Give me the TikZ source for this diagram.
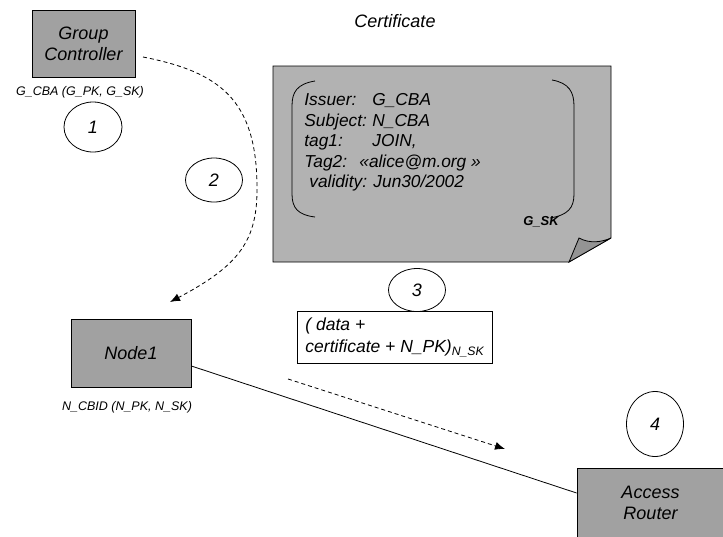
\documentclass[tikz,border=0pt]{standalone}
\usepackage{fontspec}
\setmainfont{Liberation Sans}
\usepackage{tikz}
\usetikzlibrary{arrows.meta}
\usetikzlibrary{shapes.geometric}
\definecolor{boxgray}{gray}{0.63}
\definecolor{certgray}{gray}{0.70}
\definecolor{foldgray}{gray}{0.58}

\tikzset{
  hostbox/.style={draw, fill=boxgray, align=center, inner sep=0pt,
    font=\fontsize{18}{21}\selectfont\itshape},
  stepmark/.style={draw, ellipse, inner sep=0pt,
    font=\fontsize{18}{21}\selectfont\itshape},
  keylabel/.style={font=\fontsize{12.5}{14}\selectfont\itshape},
  msgline/.style={dashed, dash pattern=on 4pt off 3pt, -{Latex[length=10pt, width=8pt]}},
}

\begin{document}
\begin{tikzpicture}[x=1pt, y=-1pt, every path/.style={line width=0.8pt}]
    \useasboundingbox (0,0) rectangle (723,536);

    \node [hostbox, minimum width=103, minimum height=67] (gc) at (83.5,43.5) {Group\\Controller};
    \node [keylabel] (gckeys) at (80,92) {G\_CBA (G\_PK, G\_SK)};
    \node [hostbox, minimum width=120, minimum height=68] (node1) at (131,353) {Node1};
    \node [keylabel] (n1keys) at (127,407) {N\_CBID (N\_PK, N\_SK)};
    \node [hostbox, minimum width=147, minimum height=69] (ar) at (650.5,502.5) {Access\\Router};

    \node [stepmark, minimum width=58, minimum height=50] (s1) at (93,127) {1};
    \node [stepmark, minimum width=57, minimum height=44] (s2) at (214,180) {2};
    \node [stepmark, minimum width=57, minimum height=43] (s3) at (417,290) {3};
    \node [stepmark, minimum width=57, minimum height=65] (s4) at (655,424) {4};

    \node [font=\fontsize{18}{21}\selectfont\itshape] (certtitle) at (395,21) {Certificate};
    \draw [fill=certgray] (273,66) -- (611,66) -- (611,238) -- (569,262) -- (273,262) -- cycle;
    \draw [fill=foldgray] (569,262) -- (579,238) .. controls (590,244) and (602,242) .. (611,238) -- cycle;
    \draw (315,81) .. controls (297,84) and (292,92) .. (292,106) -- (292,194)
      .. controls (292,208) and (298,215) .. (315,217);
    \draw (552,80) .. controls (569,83) and (574,92) .. (574,106) -- (574,194)
      .. controls (574,208) and (568,215) .. (550,218);
    \node [anchor=north west, inner sep=0pt, align=left,
      font=\fontsize{17.3}{20.5}\selectfont\itshape] (certbody) at (304,93.5) {%
      \makebox[68pt][l]{Issuer:}G\_CBA\\
      \makebox[68pt][l]{Subject:}N\_CBA\\
      \makebox[68pt][l]{tag1:}JOIN,\\
      \makebox[55pt][l]{Tag2:}«alice@m.org »\\
      \hspace*{5pt}validity: Jun30/2002};
    \node [font=\fontsize{13}{15}\selectfont\bfseries\itshape] (sig) at (541,222) {G\_SK};

    \node [draw, fill=white, anchor=north west, minimum width=195, minimum height=52,
      inner xsep=4pt, align=left,
      font=\fontsize{17.5}{22}\selectfont\itshape] (msg) at (297,311)
      {( data +\\certificate + N\_PK)\textsubscript{N\_SK}};

    \coordinate (c2a) at (143,57);
    \coordinate (c2b) at (170,302);
    \draw [msgline] (c2a) .. controls (220,72) and (256,100) .. (257,185)
      .. controls (258,240) and (240,265) .. (c2b);

    \draw ([yshift=-13pt]node1.east) -- ([yshift=9.5pt]ar.west);

    \coordinate (c4a) at (288,379);
    \coordinate (c4b) at (505,449);
    \draw [msgline] (c4a) -- (c4b);
\end{tikzpicture}
\end{document}
